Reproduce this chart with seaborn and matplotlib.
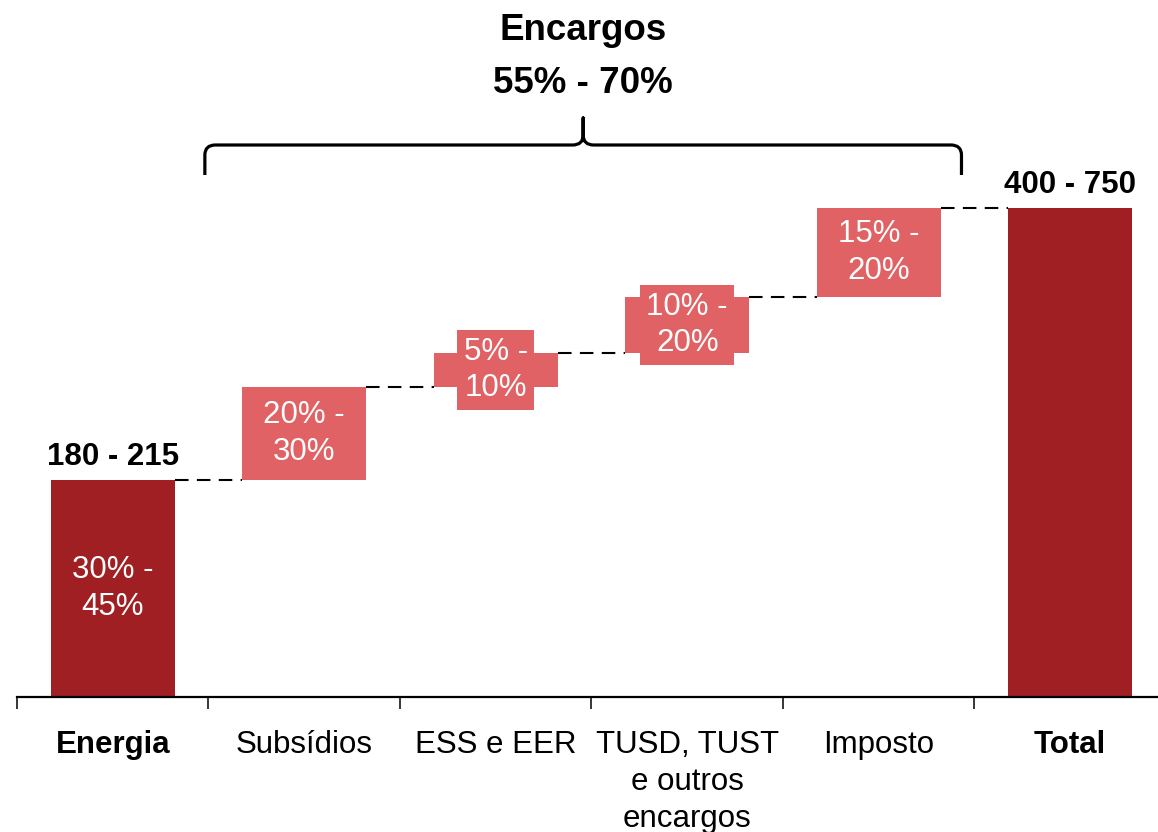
import numpy as np
import pandas as pd
import matplotlib
matplotlib.use("Agg")
import matplotlib.pyplot as plt
from matplotlib.path import Path
from matplotlib.patches import PathPatch
import seaborn as sns

# Waterfall data: energy base, each charge step, and the resulting total
categories = ["Energia", "Subsídios", "ESS e EER",
              "TUSD, TUST\ne outros\nencargos", "Imposto", "Total"]
steps = [217, 93, 34, 56, 89]
total = 489
share_labels = ["30% -\n45%", "20% -\n30%", "5% -\n10%", "10% -\n20%", "15% -\n20%", None]
range_labels = {0: "180 - 215", 5: "400 - 750"}
header = ["Encargos", "55% - 70%"]
bold_categories = ["Energia", "Total"]

DARK = "#A01F22"
LIGHT = "#E06264"
bar_colors = [DARK, LIGHT, LIGHT, LIGHT, LIGHT, DARK]

cum = np.cumsum(steps)
heights = list(steps) + [total]
bottoms = [0] + list(cum[:-1]) + [0]

sns.set_theme(style="white")
plt.rcParams["font.family"] = ["Liberation Sans", "DejaVu Sans"]
plt.rcParams["text.color"] = "black"

W, H = 1158, 832
fig = plt.figure(figsize=(W / 100, H / 100), dpi=100)
ax = fig.add_axes([17 / W, 135 / H, 1149 / W, 697 / H])

df = pd.DataFrame({"categoria": categories, "valor": heights})
bar_w = 0.65
sns.barplot(data=df, x="categoria", y="valor", hue="categoria",
            palette=bar_colors, legend=False, width=bar_w, linewidth=0,
            saturation=1, ax=ax)

# lift the charge bars so they float on the running total
patches = sorted(ax.patches, key=lambda p: p.get_x())
for p, b, h in zip(patches, bottoms, heights):
    p.set_y(b)
    p.set_height(h)

ax.set_xlim(-0.5, 5.5)
ax.set_ylim(0, 697)
ax.set_xlabel("")
ax.set_ylabel("")

# dashed connectors between consecutive bars
half = bar_w / 2
for i, level in enumerate(cum):
    ax.plot([i + half, i + 1 - half], [level, level], color="black",
            lw=1.5, ls=(0, (6.5, 4)), zorder=1)

# share labels inside bars
fs = 22.5
for i, lab in enumerate(share_labels):
    if lab is None:
        continue
    ax.text(i, bottoms[i] + heights[i] / 2, lab, ha="center", va="center",
            color="white", fontsize=fs, linespacing=1.3, zorder=4,
            bbox=dict(boxstyle="square,pad=0.2", fc=bar_colors[i], ec="none"))

# value ranges above the dark bars
for i, lab in range_labels.items():
    ax.text(i, bottoms[i] + heights[i] + 15, lab, ha="center", va="baseline",
            fontsize=fs, fontweight="bold", color="black")

# header and curly brace over the charges
xl, xr = 0.481, 4.432
xm = (xl + xr) / 2
y_end, y_bar, y_tip = 522, 552, 579
dx, dy = 0.055, 10
verts = [
    (xl, y_end), (xl, y_bar - dy), (xl, y_bar), (xl + dx, y_bar),
    (xm - dx, y_bar), (xm, y_bar), (xm, y_bar + dy), (xm, y_tip),
    (xm, y_bar + dy), (xm, y_bar), (xm + dx, y_bar),
    (xr - dx, y_bar), (xr, y_bar), (xr, y_bar - dy), (xr, y_end),
]
codes = [
    Path.MOVETO, Path.LINETO, Path.CURVE3, Path.CURVE3,
    Path.LINETO, Path.CURVE3, Path.CURVE3, Path.LINETO,
    Path.LINETO, Path.CURVE3, Path.CURVE3,
    Path.LINETO, Path.CURVE3, Path.CURVE3, Path.LINETO,
]
ax.add_patch(PathPatch(Path(verts, codes), fill=False, lw=2.3,
                       ec="black", capstyle="butt", joinstyle="round",
                       clip_on=False))
ax.text(xm, 657, header[0], ha="center", va="baseline", fontsize=26.5,
        fontweight="bold", color="black")
ax.text(xm, 604, header[1], ha="center", va="baseline", fontsize=26.5,
        fontweight="bold", color="black")

# axis: boundary ticks, centered category labels
sns.despine(ax=ax, left=True, top=True, right=True)
ax.spines["bottom"].set_color("black")
ax.spines["bottom"].set_linewidth(1.6)
ax.set_yticks([])
ax.set_xticks(np.arange(-0.5, 6.0, 1.0), labels=[""] * 7)
ax.set_xticks(np.arange(len(categories)), labels=categories, minor=True)
ax.tick_params(axis="x", which="major", bottom=True, length=8.6, width=1.1,
               color="black", direction="out")
ax.tick_params(axis="x", which="minor", bottom=True, length=0, pad=24,
               labelsize=fs, labelcolor="black")
for t in ax.get_xticklabels(minor=True):
    t.set_linespacing(1.3)
    if t.get_text() in bold_categories:
        t.set_fontweight("bold")

fig.savefig("out.png", dpi=100)
